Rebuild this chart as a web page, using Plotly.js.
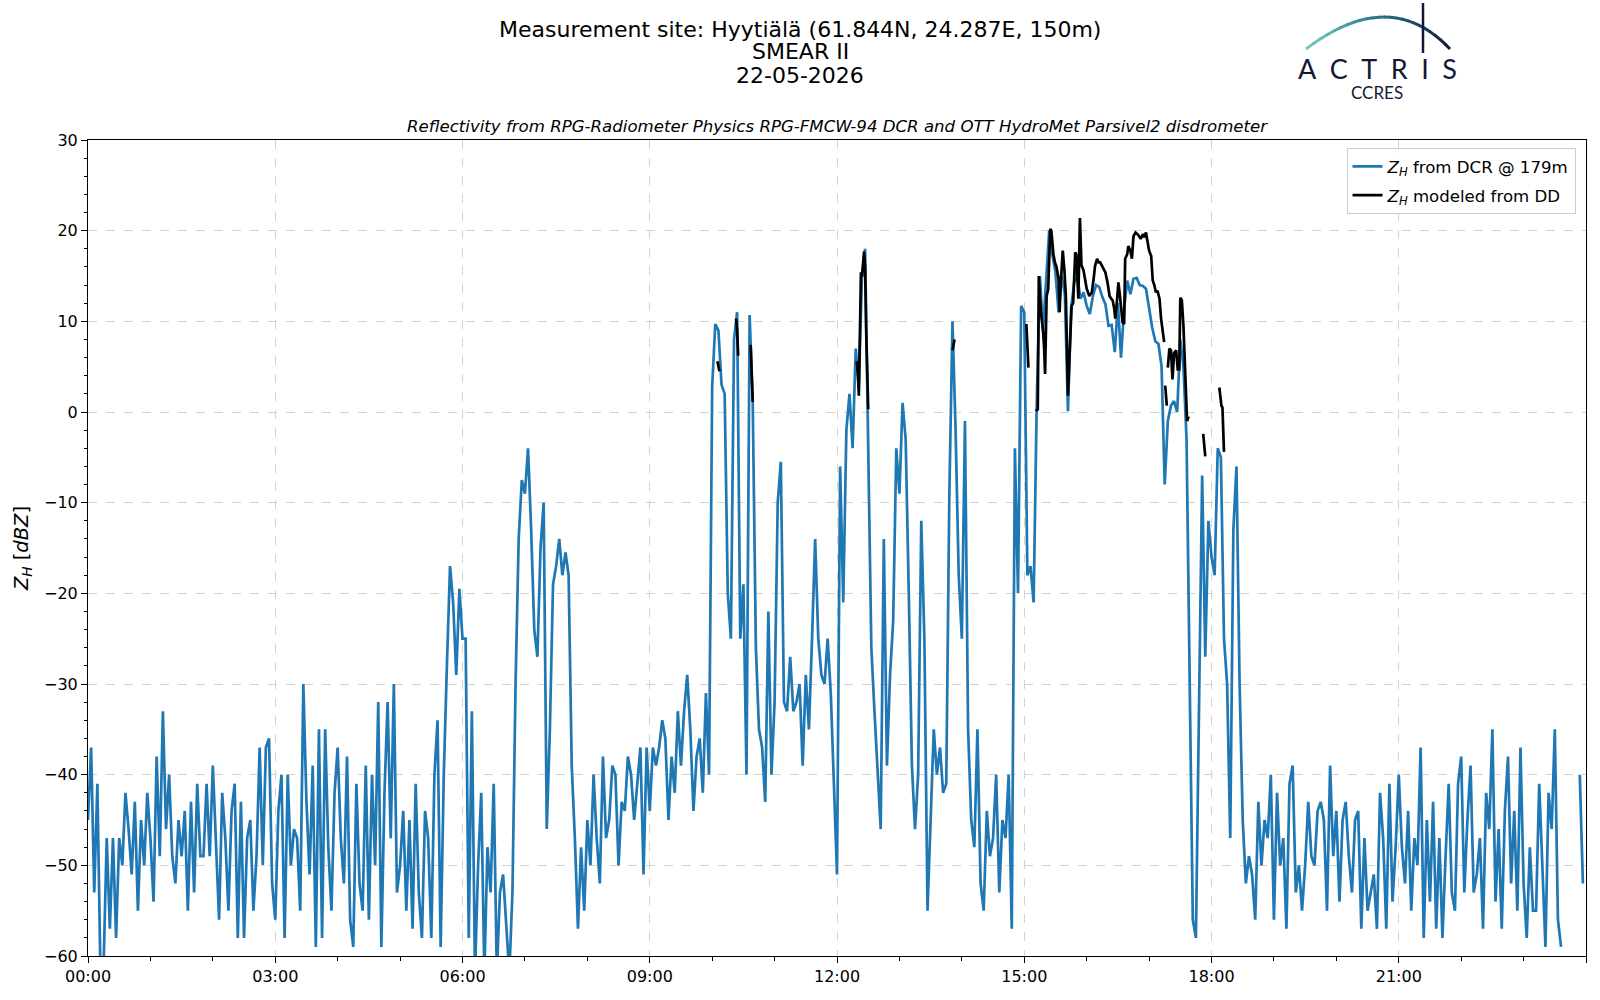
<!DOCTYPE html>
<html>
<head>
<meta charset="utf-8">
<script src="https://cdn.plot.ly/plotly-3.0.1.min.js"></script>
<style>
html, body { margin: 0; padding: 0; background: #fff; }
#chart { width: 1600px; height: 1000px; }
</style>
</head>
<body>
<div id="chart"></div>
<script>
// day of the measurement, and DCR samples every 3 minutes from 00:00
var day = '2026-05-22';
var stepMinutes = 3;

// Z_H from the cloud radar at 179 m (dBZ), one row per hour
var dcrZh = [
  -45, -37, -53, -41, -62, -61, -47, -57, -47, -58, -47, -50, -42, -46, -51, -43, -55, -45, -50, -42,
  -47, -54, -38, -49, -33, -46, -40, -49, -52, -45, -49, -44, -55, -43, -53, -41, -49, -49, -41, -49,
  -39, -47, -56, -42, -47, -55, -44, -41, -58, -43, -58, -47, -45, -55, -49, -37, -50, -37, -36, -52,
  -56, -44, -40, -58, -40, -50, -46, -47, -55, -30, -43, -51, -39, -59, -35, -58, -35, -48, -55, -42,
  -37, -47, -52, -38, -56, -59, -41, -52, -55, -39, -56, -40, -50, -32, -59, -42, -32, -47, -30, -53,
  -50, -44, -55, -45, -57, -41, -53, -58, -44, -47, -58, -40, -34, -59, -40, -28, -17, -21, -29, -19.5,
  -25, -25, -58, -33, -62, -50, -42, -62, -48, -53, -41, -62, -53, -51, -56, -62, -53, -30, -14, -7.5,
  -9, -4, -13, -24, -27, -15, -10, -46, -35, -19, -17, -14, -18, -15.5, -18, -39, -47, -57, -48, -55,
  -45, -50, -40, -47, -52, -38, -47, -45, -39, -40, -50, -43, -44, -38, -40, -45, -41, -37, -51, -37,
  -44, -37, -39, -37, -34, -36, -45, -38, -42, -33, -39, -33, -29, -35, -44, -38, -36, -42, -31, -40,
  2.8, 9.7, 9, 3, 2, -20, -25, 8, 11, -25, -19, -40, 10.7, 1, -26, -35, -37, -43, -22, -40,
  -32, -10, -5.5, -32, -33, -27, -33, -32, -30, -39, -29, -35, -25, -14, -25, -29, -30, -25, -31, -40,
  -51, -6, -21, -2, 2, -4, 7, 3, 15, 18, -4, -26, -33, -40, -46, -14, -39, -29, -23, -4,
  -9, 1, -3, -20, -39, -46, -40, -12, -25, -55, -44, -35, -40, -37, -42, -41, -9, 10, -2, -18,
  -25, -1, -35, -45, -48, -35, -52, -55, -44, -49, -47, -40, -53, -45, -47, -40, -57, -4, -20, 11.7,
  11, -18, -17, -21, 1, 15, 9, 14, 20, 17.4, 15.4, 11, 15, 13, 0.1, 11.4, 14.3, 15, 12.5, 13.2,
  11.7, 10.8, 12.8, 14, 13.8, 12.7, 11.9, 9.5, 9.6, 6.6, 12, 6, 11.4, 14.5, 13, 14.7, 14.8, 14, 13.9, 13.6,
  11.2, 9.3, 7.8, 7.5, 5, -8, -1, 0.7, 1.2, 0, 8, 5, -3, -27, -56, -58, -31, -7, -27, -12,
  -16, -18, -4, -5, -25, -30, -47, -13, -6, -30, -45, -52, -49, -51, -56, -43, -50, -45, -47, -40,
  -56, -42, -50, -47, -57, -41, -39, -53, -50, -55, -50, -43, -49, -50, -44, -43, -45, -55, -39, -49,
  -44, -54, -45, -43, -49, -53, -45, -44, -57, -47, -55, -53, -51, -57, -42, -47, -57, -41, -54, -48,
  -40, -48, -52, -44, -55, -47, -50, -37, -58, -45, -54, -43, -57, -47, -58, -49, -41, -53, -55, -41,
  -38, -53, -45, -39, -53, -51, -47, -57, -42, -46, -35, -54, -46, -57, -44, -38, -52, -44, -55, -37,
  -52, -58, -48, -55, -55, -41, -51, -59, -42, -46, -35, -56, -59, null, null, null, null, null, -40, -52
];

// Z_H modeled from the disdrometer: minute of day and value, null breaks the line
var ddMinutes = [
  605, 607, null,
  623, 624, 625, null,
  637, 638, 639, null,
  739, 740, 741, 743, 744, 746, 747, 748, 750, null,
  831, 833, null,
  902, 904, null,
  911, 913, 914, 916, 918, 919, 920, 921.5, 923, 925, 926, 928, 929.5, 931, 933, 934, 935, 937, 938.5, 940,
  942, 944, 945.5, 947, 949, 950, 952, 953.5, 955, 957, 959, 960, 962.5, 965, 967, 968, 970, 971.5, 973, 975,
  976, 978, 980, 982, 983, 985, 986.5, 987.5, 989, 990.5, 992, 993, 994.5, 996, 997, 999, 1000, 1002, 1003.5, 1005,
  1007, 1009, 1010.5, 1012, 1014, 1015.5, 1017, 1018.5, 1020, 1022, 1023.5, 1025, 1026.5, 1028, 1030, 1031.5, 1033, 1034.5, null,
  1035.5, 1037, null,
  1038, 1039.5, 1041, 1042.5, 1044, 1046, 1047.5, 1049, 1050, 1051.5, 1053, 1055, 1056.5, 1058, null,
  1072, 1074, null,
  1087.5, 1089.5, 1090.5, 1092
];
var ddZh = [
  5.6, 4.5, null,
  10.3, 9, 6.2, null,
  7.4, 5, 1.1, null,
  5.6, 4.3, 1.8, 15.4, 14.9, 17.7, 16, 9.1, 0.3, null,
  6.8, 8, null,
  9.7, 4.9, null,
  0.1, 0.3, 15, 11, 9, 7.3, 4.2, 12.8, 13.5, 20.2, 20, 17.4, 16.5, 16, 14.7, 11, 14, 17.8, 15.8, 12.8,
  1.8, 7.7, 11.7, 12, 17.6, 17.4, 12.5, 21.4, 16.2, 15.6, 14.3, 13.6, 12.8, 13.2, 15, 16.1, 16.9, 16.5, 16.5, 16.1,
  15.8, 15.4, 14.3, 12.8, 12.6, 12.3, 11.4, 10.3, 12.1, 14.3, 12.8, 11.4, 9.9, 9.7, 16.9, 17.4, 18.3, 17.8, 16.9, 19.4,
  19.8, 19.6, 19.4, 19.1, 19.6, 19.3, 19.8, 18.7, 17.8, 17.2, 14.5, 14, 13.2, 13.4, 12.5, 10.3, 9, 7.7, null,
  2.9, 0.7, null,
  4.9, 7, 6.8, 3.6, 6.5, 6.8, 4.7, 4.7, 12.6, 12.3, 9.5, 4, -1, -0.5, null,
  -2.4, -4.9, null,
  2.7, 0.7, 0.5, -4.4
];

var titleLines = ['Measurement site: Hyytiälä (61.844N, 24.287E, 150m)', 'SMEAR II', '22-05-2026'];
var subTitle = 'Reflectivity from RPG-Radiometer Physics RPG-FMCW-94 DCR and OTT HydroMet Parsivel2 disdrometer';
var legendNames = ['<i>Z</i><sub><i>H</i></sub> from DCR @ 179m', '<i>Z</i><sub><i>H</i></sub> modeled from DD'];

function pad(n) { return (n < 10 ? '0' : '') + n; }
function stamp(min) {
  if (min === null) return null;
  var h = Math.floor(min / 60);
  var m = Math.floor(min - h * 60);
  var s = Math.round((min - h * 60 - m) * 60);
  return day + ' ' + pad(h) + ':' + pad(m) + ':' + pad(s);
}

var dcrTimes = dcrZh.map(function (v, i) { return stamp(i * stepMinutes); });
var ddTimes = ddMinutes.map(stamp);

// page geometry, used to place the header and the logo
var W = 1600, H = 1000, L = 88, R = 14, T = 140, B = 44;
var plotW = W - L - R, plotH = H - T - B;
function px(x) { return (x - L) / plotW; }
function py(y) { return (H - B - y) / plotH; }

var font = 'DejaVu Sans';
var navy = '#121838';

var annotations = [];
var titleY = [29, 51.5, 75];
titleLines.forEach(function (t, i) {
  annotations.push({
    xref: 'paper', yref: 'paper', x: px(800), y: py(titleY[i]),
    xanchor: 'center', yanchor: 'middle', showarrow: false,
    text: t, font: { family: font, size: 22, color: '#000' }
  });
});
annotations.push({
  xref: 'paper', yref: 'paper', x: 0.5, y: py(126),
  xanchor: 'center', yanchor: 'middle', showarrow: false,
  text: '<i>' + subTitle + '</i>', font: { family: font, size: 16.6, color: '#000' }
});
annotations.push({
  xref: 'paper', yref: 'paper', x: px(1377), y: py(68),
  xanchor: 'center', yanchor: 'middle', showarrow: false,
  text: 'A\u2002C\u2002T\u2002R\u2002I\u2002S', font: { family: 'Lato', size: 27, color: navy }
});
annotations.push({
  xref: 'paper', yref: 'paper', x: px(1377), y: py(93),
  xanchor: 'center', yanchor: 'middle', showarrow: false,
  text: 'CCRES', font: { family: 'Lato', size: 17, color: navy }
});

// logo arc, teal fading into navy
var shapes = [];
var a0 = [1306, 49], a1 = [1390, -15], a2 = [1450, 49];
function bez(t) {
  var u = 1 - t;
  return [u * u * a0[0] + 2 * u * t * a1[0] + t * t * a2[0],
          u * u * a0[1] + 2 * u * t * a1[1] + t * t * a2[1]];
}
function arcColor(t) {
  var c0 = [125, 202, 196], c1 = [38, 118, 138], c2 = [18, 24, 56];
  var a, b, f;
  if (t < 0.45) { a = c0; b = c1; f = t / 0.45; } else { a = c1; b = c2; f = (t - 0.45) / 0.55; }
  return 'rgb(' + [0, 1, 2].map(function (k) { return Math.round(a[k] + (b[k] - a[k]) * f); }).join(',') + ')';
}
var nSeg = 24;
for (var i = 0; i < nSeg; i++) {
  var p = bez(i / nSeg), q = bez((i + 1.15) / nSeg > 1 ? 1 : (i + 1.15) / nSeg);
  shapes.push({
    type: 'line', xref: 'paper', yref: 'paper',
    x0: px(p[0]), y0: py(p[1]), x1: px(q[0]), y1: py(q[1]),
    line: { color: arcColor((i + 0.5) / nSeg), width: 3 }
  });
}
shapes.push({
  type: 'line', xref: 'paper', yref: 'paper',
  x0: px(1423), y0: py(3), x1: px(1423), y1: py(53),
  line: { color: navy, width: 2.5 }
});

var traces = [
  {
    x: dcrTimes, y: dcrZh, name: legendNames[0], legendgroup: 'a',
    type: 'scatter', mode: 'lines', connectgaps: false,
    line: { color: '#1f77b4', width: 2.7 }
  },
  {
    x: ddTimes, y: ddZh, name: legendNames[1], legendgroup: 'b',
    type: 'scatter', mode: 'lines', connectgaps: false,
    line: { color: '#000000', width: 2.7 }
  }
];

var layout = {
  width: W, height: H,
  margin: { l: L, r: R, t: T, b: B },
  paper_bgcolor: '#fff', plot_bgcolor: '#fff',
  font: { family: font, size: 16, color: '#000' },
  showlegend: true,
  legend: {
    x: 0.993, y: 0.99, xanchor: 'right', yanchor: 'top',
    bgcolor: 'rgba(255,255,255,0.85)', bordercolor: '#cccccc', borderwidth: 1,
    font: { family: font, size: 16.6 }, tracegroupgap: 4, traceorder: 'grouped'
  },
  xaxis: {
    type: 'date',
    range: [day + ' 00:00:00', day + ' 23:59:59'],
    tick0: day + ' 00:00:00', dtick: 3 * 3600000, tickformat: '%H:%M',
    ticks: 'outside', ticklen: 6, tickwidth: 1, tickcolor: '#000',
    showline: true, linecolor: '#000', linewidth: 1, mirror: true,
    showgrid: true, gridcolor: '#d3d3d3', gridwidth: 1, griddash: 'dash',
    zeroline: false,
    tickfont: { family: font, size: 16 },
    minor: { dtick: 3600000, ticks: 'outside', ticklen: 3.5, tickcolor: '#000', showgrid: false }
  },
  yaxis: {
    range: [-60, 30], tick0: 0, dtick: 10,
    ticks: 'outside', ticklen: 6, tickwidth: 1, tickcolor: '#000',
    showline: true, linecolor: '#000', linewidth: 1, mirror: true,
    showgrid: true, gridcolor: '#d3d3d3', gridwidth: 1, griddash: 'dash',
    zeroline: false,
    tickfont: { family: font, size: 16 },
    minor: { dtick: 2, ticks: 'outside', ticklen: 3.5, tickcolor: '#000', showgrid: false },
    title: { text: '<i>Z</i><sub><i>H</i></sub> [<i>dBZ</i>]', font: { family: font, size: 19.5 }, standoff: 10 }
  },
  annotations: annotations,
  shapes: shapes
};

Plotly.newPlot('chart', traces, layout, { displayModeBar: false, staticPlot: true });
</script>
</body>
</html>
